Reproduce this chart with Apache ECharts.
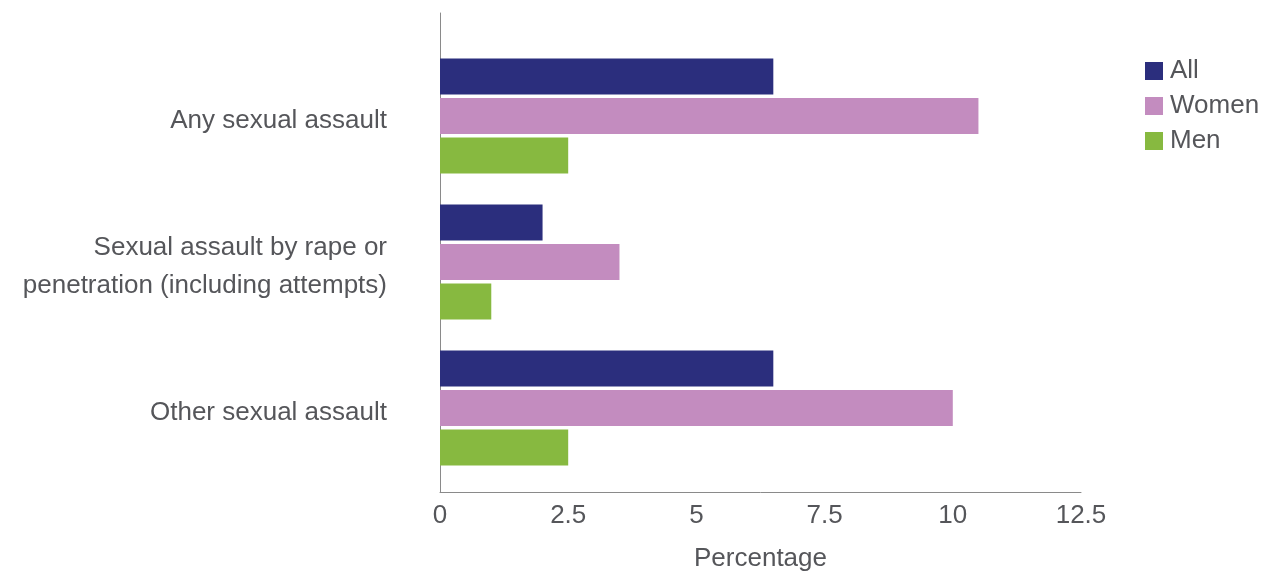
<!DOCTYPE html>
<html>
<head>
<meta charset="utf-8">
<script src="https://cdn.jsdelivr.net/npm/echarts@6/dist/echarts.min.js"></script>
<style>
html,body{margin:0;padding:0;background:#fff;}
#chart{width:1270px;height:571px;}
</style>
</head>
<body>
<div id="chart"></div>
<script>
const categories = ["Any sexual assault", "Sexual assault by rape or\npenetration (including attempts)", "Other sexual assault"];
const seriesNames = ["All", "Women", "Men"];
const allValues = [6.5, 2.0, 6.5];
const womenValues = [10.5, 3.5, 10.0];
const menValues = [2.5, 1.0, 2.5];
const xTickStep = 2.5;
const xMax = 12.5;
const xAxisTitle = "Percentage";

const colors = ["#2b2e7d", "#c38cbf", "#87b940"];
const font = "'Liberation Sans', Arial, Helvetica, sans-serif";
const textColor = "#55565a";

const chart = echarts.init(document.getElementById('chart'), null, {renderer: 'canvas'});
const seriesData = [allValues, womenValues, menValues];

chart.setOption({
  animation: false,
  backgroundColor: '#ffffff',
  textStyle: {fontFamily: font},
  legend: {
    orient: 'vertical',
    left: 1145,
    top: 58,
    padding: 0,
    itemWidth: 18,
    itemHeight: 18,
    itemGap: 9,
    icon: 'rect',
    data: seriesNames,
    textStyle: {fontSize: 26, color: textColor, fontFamily: font, padding: [0,0,0,2]}
  },
  grid: [
    {left: 440, right: 189, top: 43, bottom: 90, containLabel: false, outerBoundsMode: 'none'},
    {left: 440, right: 189, top: 13, bottom: 79, containLabel: false, outerBoundsMode: 'none'},
    {left: 440, right: 189, top: 48, bottom: 85, containLabel: false, outerBoundsMode: 'none'}
  ],
  xAxis: [
    {gridIndex: 0, type: 'value', min: 0, max: xMax, show: false},
    {gridIndex: 1, type: 'value', min: 0, max: xMax, interval: xTickStep,
     axisLine: {show: true, lineStyle: {color: '#8a8a8a', width: 1}},
     axisTick: {show: false},
     splitLine: {show: false},
     axisLabel: {fontSize: 26, color: textColor, margin: 11, fontFamily: font},
     name: xAxisTitle, nameLocation: 'middle', nameGap: 54,
     nameTextStyle: {fontSize: 26, color: textColor, fontFamily: font}
    },
    {gridIndex: 2, type: 'value', min: 0, max: xMax, show: false}
  ],
  yAxis: [
    {gridIndex: 0, type: 'category', data: categories, inverse: true, show: false},
    {gridIndex: 1, type: 'value', min: 0, max: 1,
     axisLine: {show: true, lineStyle: {color: '#8a8a8a', width: 1}},
     axisTick: {show: false}, axisLabel: {show: false}, splitLine: {show: false}
    },
    {gridIndex: 2, type: 'category', data: categories, inverse: true,
     axisLine: {show: false}, axisTick: {show: false},
     axisLabel: {fontSize: 26, color: textColor, margin: 53, lineHeight: 38, align: 'right', fontFamily: font}
    }
  ],
  series: seriesNames.map((n, i) => ({
    name: n,
    type: 'bar',
    xAxisIndex: 0,
    yAxisIndex: 0,
    data: seriesData[i],
    barWidth: 36,
    barGap: '10%',
    itemStyle: {color: colors[i]}
  }))
});
</script>
</body>
</html>
